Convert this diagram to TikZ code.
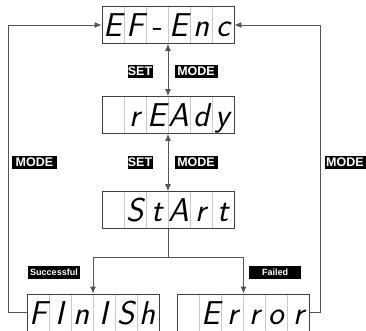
\documentclass[tikz,border=0pt]{standalone}
\usepackage{fontspec}
\newfontfamily\lblfont{Liberation Sans}
\usetikzlibrary{arrows.meta,calc}
\definecolor{boxgray}{HTML}{404040}
\definecolor{divgray}{HTML}{C8C8C8}
\definecolor{linegray}{HTML}{555555}
\newcommand\dg[1]{\makebox[22pt]{#1}}
\tikzset{
  disp/.style={draw=boxgray, line width=0.8pt, minimum width=132pt, minimum height=37pt,
    inner sep=0pt, text height=23pt, text depth=0pt,
    font=\fontsize{33}{33}\selectfont\sffamily\itshape,
    path picture={\foreach \i in {1,...,5}{\draw[divgray,line width=0.6pt]
      ($(path picture bounding box.north west)!\i/6!(path picture bounding box.north east)$) --
      ($(path picture bounding box.south west)!\i/6!(path picture bounding box.south east)$);}}},
  lbl/.style={fill=black, text=white, font=\lblfont\bfseries\fontsize{12.5}{13}\selectfont,
    inner sep=0pt, minimum height=13pt},
  slbl/.style={lbl, font=\lblfont\bfseries\fontsize{9}{10}\selectfont, minimum width=52pt},
  conn/.style={draw=linegray, line width=0.8pt},
  arr/.style={conn, -{Latex[length=7pt,width=6pt]}},
  dbl/.style={conn, {Latex[length=7pt,width=6pt]}-{Latex[length=7pt,width=6pt]}},
}
\begin{document}
\begin{tikzpicture}[x=1pt,y=-1pt]
\useasboundingbox (0,0) rectangle (366,330);
% displays
\node[disp] (ef) at (168,25) {\dg{E}\dg{F}\dg{-}\dg{E}\dg{n}\dg{c}};
\node[disp] (rd) at (168,115) {\dg{}\dg{r}\dg{E}\dg{A}\dg{d}\dg{y}};
\node[disp] (st) at (168,210) {\dg{}\dg{S}\dg{t}\dg{A}\dg{r}\dg{t}};
\node[disp] (fi) at (93,312.5) {\dg{F}\dg{I}\dg{n}\dg{I}\dg{S}\dg{h}};
\node[disp] (er) at (243.5,312.5) {\dg{}\dg{E}\dg{r}\dg{r}\dg{o}\dg{r}};
% labels
\node[lbl, minimum width=25pt] (set1) at (140,71.5) {SET};
\node[lbl, minimum width=43pt] (mode1) at (196,71.5) {MODE};
\node[lbl, minimum width=25pt] (set2) at (140,162) {SET};
\node[lbl, minimum width=43pt] (mode2) at (196,162) {MODE};
\node[lbl, minimum width=45pt] (model) at (34.5,162) {MODE};
\node[lbl, minimum width=46pt, anchor=west, text width=44pt, align=left] (moder) at (325,162) {MODE};
\node[slbl] (succ) at (54,272) {Successful};
\node[slbl] (fail) at (275,272) {Failed};
% connectors
\draw[dbl] (ef.south) -- (rd.north);
\draw[dbl] (rd.south) -- (st.north);
\coordinate (j) at (168,257);
\draw[conn] (st.south) -- (j);
\draw[arr] (j) -| (fi.north);
\draw[arr] (j) -| (er.north);
\draw[arr] (fi.west) -- ++(-18,0) |- (ef.west);
\draw[arr] (er.east) -- ++(10,0) |- (ef.east);
\end{tikzpicture}
\end{document}
